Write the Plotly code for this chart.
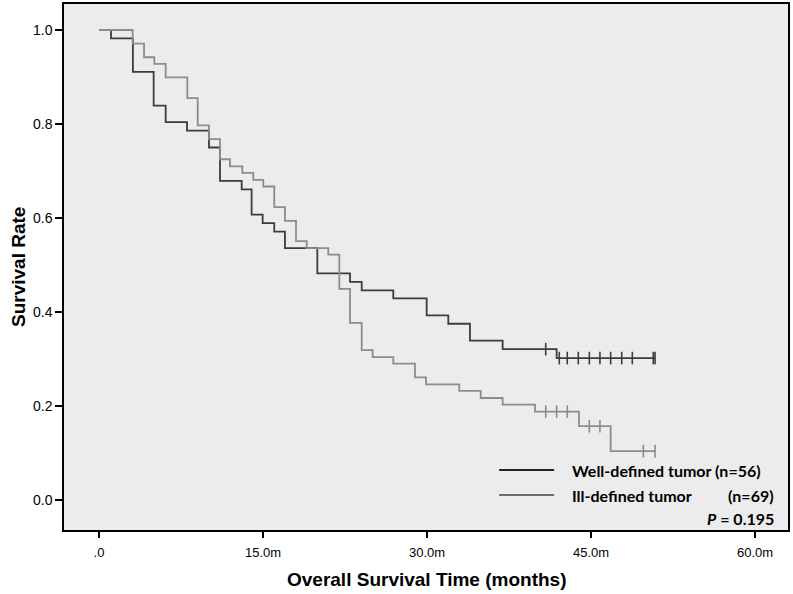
import plotly.graph_objects as go

# Well-defined tumor (n=56): event times (months) and survival after each step
well_times = [1.1, 3.1, 5.0, 6.1, 8.05, 10.06, 11.07, 13.05, 13.96, 14.97, 16.03, 17.01,
              19.97, 22.96, 24.03, 26.92, 29.97, 31.95, 33.93, 36.92, 41.86]
well_surv = [0.982, 0.911, 0.839, 0.804, 0.786, 0.750, 0.679, 0.661, 0.607, 0.589, 0.571, 0.536,
             0.482, 0.464, 0.446, 0.429, 0.393, 0.375, 0.339, 0.321, 0.302]
well_end = 50.86
well_cens_t = [40.86, 42.1, 42.83, 43.84, 44.85, 45.82, 46.8, 47.81, 48.78, 50.7, 50.86]
well_cens_s = [0.321, 0.302, 0.302, 0.302, 0.302, 0.302, 0.302, 0.302, 0.302, 0.302, 0.302]

# Ill-defined tumor (n=69)
ill_times = [3.08, 4.12, 5.06, 6.10, 8.08, 9.03, 10.06, 11.07, 11.98, 13.11, 14.11, 15.03,
             16.03, 17.01, 18.02, 19.0, 20.97, 21.98, 22.96, 24.03, 25.03, 26.92, 28.9, 29.91,
             32.95, 34.91, 36.92, 39.88, 43.9, 46.8]
ill_surv = [0.971, 0.942, 0.928, 0.899, 0.855, 0.797, 0.768, 0.725, 0.710, 0.696, 0.681, 0.667,
            0.623, 0.594, 0.551, 0.536, 0.522, 0.449, 0.377, 0.319, 0.304, 0.290, 0.261, 0.246,
            0.232, 0.217, 0.203, 0.188, 0.157, 0.104]
ill_end = 50.86
ill_cens_t = [40.86, 41.86, 42.83, 44.85, 45.82, 49.79, 50.86]
ill_cens_s = [0.188, 0.188, 0.188, 0.157, 0.157, 0.104, 0.104]

x_tickvals = [0, 15, 30, 45, 60]
x_ticktext = [".0", "15.0m", "30.0m", "45.0m", "60.0m"]
y_tickvals = [0.0, 0.2, 0.4, 0.6, 0.8, 1.0]

legend_labels = ["Well-defined tumor (n=56)", "Ill-defined tumor", "(n=69)"]
p_text = "<i>P</i> = 0.195"
x_title = "Overall Survival Time (months)"
y_title = "Survival Rate"

DARK = "#3c3c3c"
LIGHT = "#8c8c8c"

fig = go.Figure()

for times, surv, end, color, name in [
    (well_times, well_surv, well_end, DARK, "Well-defined"),
    (ill_times, ill_surv, ill_end, LIGHT, "Ill-defined"),
]:
    xs = [0] + times + [end]
    ys = [1.0] + surv + [surv[-1]]
    fig.add_trace(go.Scatter(x=xs, y=ys, mode="lines", line=dict(shape="hv", color=color, width=1.8),
                             name=name, showlegend=False, hoverinfo="skip"))

for ct, cs, color in [(well_cens_t, well_cens_s, DARK), (ill_cens_t, ill_cens_s, LIGHT)]:
    fig.add_trace(go.Scatter(x=ct, y=cs, mode="markers",
                             marker=dict(symbol="line-ns", size=9, line=dict(color=color, width=1.6)),
                             showlegend=False, hoverinfo="skip"))

# custom legend inside plot (bottom right)
fig.add_shape(type="line", xref="paper", yref="paper", x0=0.601, x1=0.677, y0=0.114, y1=0.114,
              line=dict(color="#222222", width=2))
fig.add_shape(type="line", xref="paper", yref="paper", x0=0.601, x1=0.677, y0=0.0665, y1=0.0665,
              line=dict(color="#6e6e6e", width=2))
lf = dict(family="Lato, 'Open Sans', sans-serif", size=16, color="black")
fig.add_annotation(xref="paper", yref="paper", x=0.699, y=0.114, text="<b>%s</b>" % legend_labels[0],
                   showarrow=False, xanchor="left", yanchor="middle", font=lf)
fig.add_annotation(xref="paper", yref="paper", x=0.699, y=0.0665, text="<b>%s</b>" % legend_labels[1],
                   showarrow=False, xanchor="left", yanchor="middle", font=lf)
fig.add_annotation(xref="paper", yref="paper", x=0.9835, y=0.0665, text="<b>%s</b>" % legend_labels[2],
                   showarrow=False, xanchor="right", yanchor="middle", font=lf)
fig.add_annotation(xref="paper", yref="paper", x=0.9835, y=0.0225, text="<b>%s</b>" % p_text,
                   showarrow=False, xanchor="right", yanchor="middle", font=lf)

# axis titles placed explicitly
fig.add_annotation(xref="paper", yref="paper", x=0.5, y=0, yshift=-49, text="<b>%s</b>" % x_title,
                   showarrow=False, xanchor="center", yanchor="middle",
                   font=dict(family="'Liberation Sans Narrow', 'Liberation Sans', sans-serif", size=19, color="black"))
fig.add_annotation(xref="paper", yref="paper", x=0, y=0.5, xshift=-46, text="<b>%s</b>" % y_title,
                   showarrow=False, xanchor="center", yanchor="middle", textangle=-90,
                   font=dict(family="'Liberation Sans', Arial, sans-serif", size=19, color="black"))

fig.update_layout(
    width=793, height=594,
    margin=dict(l=64, r=5, t=4, b=64),
    paper_bgcolor="white", plot_bgcolor="#ececec",
    showlegend=False,
)
fig.update_xaxes(
    range=[-3.20, 63.02], tickvals=x_tickvals, ticktext=x_ticktext,
    showgrid=False, zeroline=False, automargin=False,
    showline=True, linecolor="black", linewidth=1.5, mirror=True,
    ticks="outside", ticklen=6, tickwidth=1.5, tickcolor="black",
    ticklabelstandoff=4,
    tickfont=dict(family="'Liberation Sans Narrow', 'Liberation Sans', sans-serif", size=13, color="black"),
)
fig.update_yaxes(
    range=[-0.0638, 1.0553], tickvals=y_tickvals, tickformat=".1f",
    showgrid=False, zeroline=False, automargin=False,
    showline=True, linecolor="black", linewidth=1.5, mirror=True,
    ticks="outside", ticklen=7, tickwidth=1.5, tickcolor="black",
    tickfont=dict(family="'Liberation Sans', Arial, sans-serif", size=14, color="black"),
)

fig.write_html("out.html", config={"displayModeBar": False},
               post_script="document.body.style.margin='0';document.body.style.overflow='hidden';")
